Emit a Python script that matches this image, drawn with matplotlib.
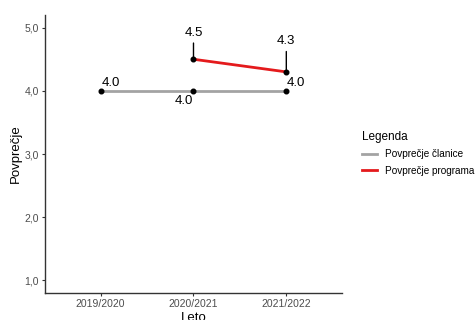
import matplotlib
matplotlib.use("Agg")
import matplotlib.pyplot as plt
from matplotlib.lines import Line2D

plt.rcParams['font.family'] = ['Liberation Sans', 'DejaVu Sans']

leta = ["2019/2020", "2020/2021", "2021/2022"]
clanica = [4.0, 4.0, 4.0]
program_leta = ["2020/2021", "2021/2022"]
program = [4.5, 4.3]
y_ticks = [1, 2, 3, 4, 5]
y_tick_labels = ["1,0", "2,0", "3,0", "4,0", "5,0"]

siva = '#A3A3A3'
rdeca = '#E41A1C'

fig = plt.figure(figsize=(4.75, 3.2), dpi=100)
ax = fig.add_axes([0.0947, 0.0844, 0.6253, 0.8686])

x_cl = [leta.index(l) + 1 for l in leta]
x_pr = [leta.index(l) + 1 for l in program_leta]

ax.plot(x_cl, clanica, color=siva, lw=2, solid_capstyle='butt', zorder=2)
ax.plot(x_pr, program, color=rdeca, lw=2, solid_capstyle='butt', zorder=2)
ax.scatter(x_cl, clanica, s=11, color='black', zorder=3)
ax.scatter(x_pr, program, s=11, color='black', zorder=3)

# oznake vrednosti (kot ggrepel)
odmiki_cl = [(7, 6), (-7, -7), (7, 6)]
for x, y, (dx, dy) in zip(x_cl, clanica, odmiki_cl):
    ax.annotate(f"{y:.1f}", (x, y), xytext=(dx, dy), textcoords='offset points',
                ha='center', va='center', fontsize=9.5)
odmiki_pr = [(0, 19), (0, 22)]
for x, y, (dx, dy) in zip(x_pr, program, odmiki_pr):
    ax.annotate(f"{y:.1f}", (x, y), xytext=(dx, dy), textcoords='offset points',
                ha='center', va='center', fontsize=9.5,
                arrowprops=dict(arrowstyle='-', color='black', lw=1,
                                relpos=(0.5, 0.0), shrinkA=1, shrinkB=0))

ax.set_xlim(0.4, 3.6)
ax.set_ylim(0.8, 5.2)
ax.set_xticks(x_cl)
ax.set_xticklabels(leta)
ax.set_yticks(y_ticks)
ax.set_yticklabels(y_tick_labels)
ax.tick_params(colors='#4D4D4D', labelsize=7.5, length=2.5, width=0.8, pad=2)
ax.tick_params(axis='both', color='#333333')
for s in ['top', 'right']:
    ax.spines[s].set_visible(False)
for s in ['left', 'bottom']:
    ax.spines[s].set_color('#333333')
    ax.spines[s].set_linewidth(1)

ax.set_xlabel("Leto", fontsize=9.5, labelpad=2)
ax.set_ylabel("Povprečje", fontsize=9.5, labelpad=2)

handles = [Line2D([], [], color=siva, lw=2),
           Line2D([], [], color=rdeca, lw=2)]
leg = fig.legend(handles, ["Povprečje članice", "Povprečje programa"],
                 title="Legenda", loc='upper left', bbox_to_anchor=(0.743, 0.62),
                 frameon=False, fontsize=7.2, title_fontsize=8.5,
                 handlelength=1.55, handletextpad=0.75, labelspacing=0.65)
leg._legend_box.align = "left"

fig.savefig("out.png", dpi=100)
